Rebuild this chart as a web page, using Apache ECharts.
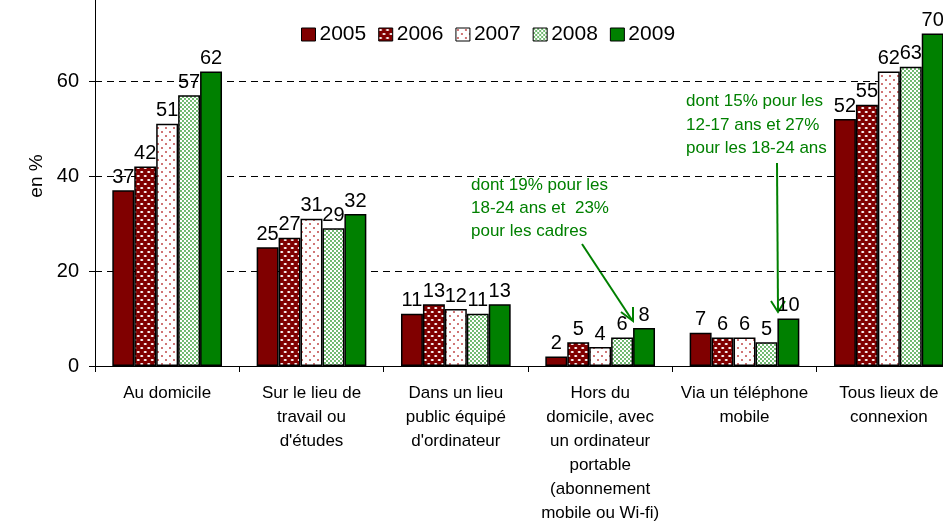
<!DOCTYPE html>
<html><head><meta charset="utf-8">
<script src="https://cdn.jsdelivr.net/npm/echarts@6/dist/echarts.min.js"></script>
<style>html,body{margin:0;padding:0;background:#fff;overflow:hidden;width:943px;height:521px;position:relative}
#c{position:absolute;left:0;top:-14px;width:961px;height:535px}</style>
</head><body><div id="c"></div>
<script>
const categories = [
  "Au domicile",
  "Sur le lieu de\ntravail ou\nd'études",
  "Dans un lieu\npublic équipé\nd'ordinateur",
  "Hors du\ndomicile, avec\nun ordinateur\nportable\n(abonnement\nmobile ou Wi-fi)",
  "Via un téléphone\nmobile",
  "Tous lieux de\nconnexion"
];
const years = ["2005", "2006", "2007", "2008", "2009"];
const v2005 = [37, 25, 11, 2, 7, 52];
const v2006 = [42, 27, 13, 5, 6, 55];
const v2007 = [51, 31, 12, 4, 6, 62];
const v2008 = [57, 29, 11, 6, 5, 63];
const v2009 = [62, 32, 13, 8, 10, 70];
const yTicks = [0, 20, 40, 60];

function pat(w, h, bg, draw) {
  const c = document.createElement('canvas');
  c.width = w; c.height = h;
  const g = c.getContext('2d');
  g.fillStyle = bg; g.fillRect(0, 0, w, h);
  draw(g);
  return { image: c, repeat: 'repeat' };
}
function ell(g, x, y, rx, ry) { g.beginPath(); g.ellipse(x, y, rx, ry, 0, 0, Math.PI * 2); g.fill(); }
const DR = '#800000', GR = '#008000';
const p2006 = pat(7, 8, DR, g => { g.fillStyle = '#fff'; ell(g, 1.75, 2, 1.6, 0.9); ell(g, 5.25, 6, 1.6, 0.9); });
const p2007 = pat(8, 8, '#fff', g => { g.fillStyle = '#c04848'; ell(g, 2, 2, 1, 1); ell(g, 6, 6, 1, 1); });
const p2008 = pat(4, 4, '#fff', g => { g.fillStyle = '#2f9a2f'; ell(g, 1, 1, 0.9, 0.9); ell(g, 3, 3, 0.9, 0.9); });
const fills = [DR, p2006, p2007, p2008, GR];
const vals = [v2005, v2006, v2007, v2008, v2009];

const FONT = '"Liberation Sans", Arial, sans-serif';
const OY = 14; // container offset (container is shifted up by 14px)
const chart = echarts.init(document.getElementById('c'), null, { renderer: 'canvas' });
chart.setOption({
  animation: false,
  backgroundColor: '#fff',
  textStyle: { fontFamily: FONT },
  legend: {
    data: years, top: 33, left: 296, itemWidth: 14, itemHeight: 13, itemGap: 12,
    icon: 'rect',
    textStyle: { fontSize: 21, color: '#000', fontFamily: FONT, padding: [0, 0, 0, -1] },
    itemStyle: { borderColor: '#000', borderWidth: 1 }
  },
  grid: { left: 95, right: 0, top: 0, bottom: 155, containLabel: false, outerBoundsMode: 'none' },
  xAxis: {
    type: 'category', data: categories,
    axisLine: { lineStyle: { color: '#000', width: 1 } },
    axisTick: { show: true, length: 6, lineStyle: { color: '#000' } },
    axisLabel: { interval: 0, fontSize: 17, color: '#000', lineHeight: 24, margin: 15, fontFamily: FONT }
  },
  yAxis: {
    type: 'value', min: 0, max: 80, interval: 20,
    name: 'en %', nameLocation: 'middle', nameGap: 43, nameRotate: 90,
    nameTextStyle: { fontSize: 19, color: '#000', fontFamily: FONT },
    axisLine: { show: true, lineStyle: { color: '#000', width: 1 } },
    axisTick: { show: true, length: 6, lineStyle: { color: '#000' } },
    axisLabel: {
      fontSize: 20, color: '#000', margin: 16, fontFamily: FONT,
      formatter: v => yTicks.includes(v) ? String(v) : ''
    },
    splitLine: { show: true, lineStyle: { color: '#000', type: [7, 5], width: 1 } }
  },
  series: years.map((y, i) => ({
    name: y, type: 'bar', data: vals[i],
    barGap: '0%', barCategoryGap: '24%',
    itemStyle: { color: fills[i], borderColor: '#000', borderWidth: 1.5 },
    label: { show: true, position: 'top', distance: 3, fontSize: 20, color: '#000', fontFamily: FONT }
  })),
  graphic: [
    {
      type: 'text', left: 471, top: 174 + OY,
      style: { text: "dont 19% pour les\n18-24 ans et  23%\npour les cadres", fill: GR, fontSize: 17, lineHeight: 23, fontFamily: FONT }
    },
    {
      type: 'text', left: 686, top: 90 + OY,
      style: { text: "dont 15% pour les\n12-17 ans et 27%\npour les 18-24 ans", fill: GR, fontSize: 17, lineHeight: 23.5, fontFamily: FONT }
    },
    { type: 'line', shape: { x1: 582, y1: 244 + OY, x2: 632, y2: 320 + OY }, style: { stroke: GR, lineWidth: 2 } },
    { type: 'polyline', shape: { points: [[621, 312 + OY], [633, 321 + OY], [633, 307 + OY]] }, style: { stroke: GR, lineWidth: 2, fill: null } },
    { type: 'line', shape: { x1: 777, y1: 163 + OY, x2: 778, y2: 311 + OY }, style: { stroke: GR, lineWidth: 2 } },
    { type: 'polyline', shape: { points: [[771, 301 + OY], [778, 312 + OY], [785, 301 + OY]] }, style: { stroke: GR, lineWidth: 2, fill: null } }
  ]
});
</script></body></html>
